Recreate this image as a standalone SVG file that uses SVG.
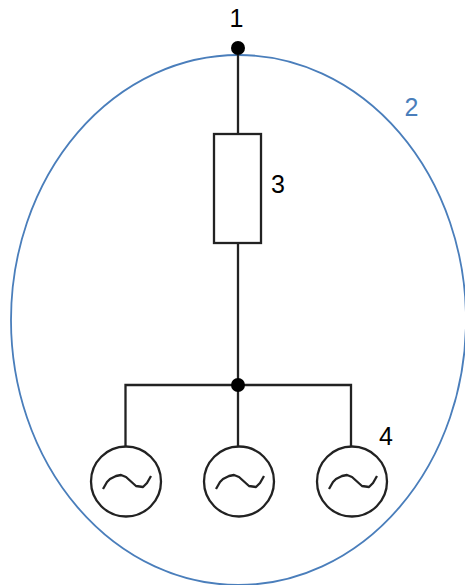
<svg xmlns="http://www.w3.org/2000/svg" width="465" height="585" viewBox="0 0 465 585">
<style>
.w{fill:none;stroke:#222;stroke-width:2.300}
.g{fill:#fff;stroke:#222;stroke-width:2.300}
.s{fill:none;stroke:#222;stroke-width:2.300;stroke-linejoin:round}
.d{fill:#000}
.t{font-family:"Liberation Sans",Arial,sans-serif;font-size:25px;fill:#000}
</style>
<defs><path id="wave" class="s" d="M-23 8L-19 1L-16 -2L-10 -5L-5 -6L0 -4L10 5L17 6L21 2L25 -5"/></defs>
<rect width="465" height="585" fill="#fff"/>
<g id="boundary"><ellipse cx="238.500" cy="320" rx="227.500" ry="265" fill="none" stroke="#4a7ebb" stroke-width="1.800"/><text class="t" x="404.500" y="116" style="fill:#4a7ebb">2</text></g>
<g id="connectors">
<path class="w" d="M238 55V134M238 243V385M125.500 447V385H351V447M238 385V447"/>
</g>
<g id="node-1"><circle class="d" cx="238" cy="48" r="7"/><text class="t" x="229.500" y="27">1</text></g>
<g id="node-3"><rect class="g" x="214" y="134" width="47" height="109"/><text class="t" x="271" y="193">3</text></g>
<g id="junction"><circle class="d" cx="238" cy="385" r="7"/></g>
<g id="node-4"><text class="t" x="379" y="445">4</text>
<g id="gen-1"><circle class="g" cx="126" cy="481.500" r="35"/><use href="#wave" x="126" y="481"/></g>
<g id="gen-2"><circle class="g" cx="239" cy="481.500" r="35"/><use href="#wave" x="239" y="481"/></g>
<g id="gen-3"><circle class="g" cx="352" cy="481.500" r="35"/><use href="#wave" x="352" y="481"/></g>
</g>
</svg>
